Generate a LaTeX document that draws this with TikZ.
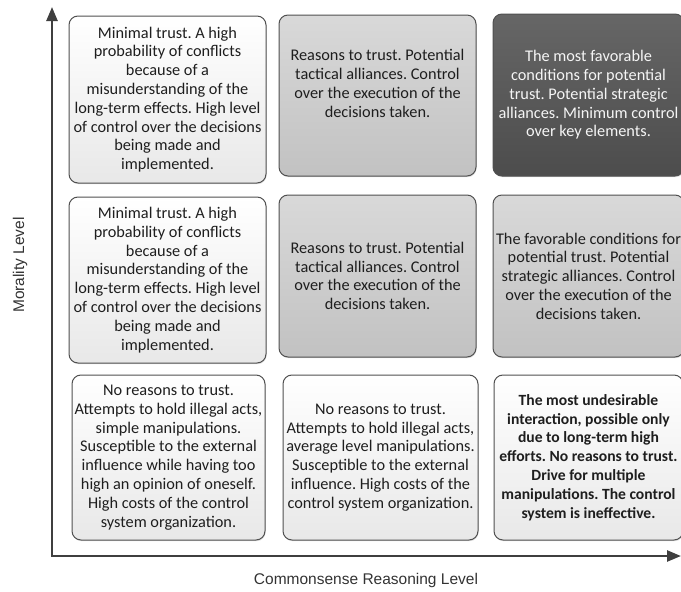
\documentclass[tikz,border=0pt]{standalone}
\usepackage{fontspec}
\setmainfont{Carlito}
\newfontfamily\axisfont{Liberation Sans}
\usepackage{tikz}
\usetikzlibrary{arrows.meta}
\usetikzlibrary{shadows}
\frenchspacing
\definecolor{edgegrey}{HTML}{505050}
\definecolor{axisgrey}{HTML}{3F3F3F}
\definecolor{textgrey}{HTML}{1E1E1E}
\tikzstyle{cell} = [rectangle, rounded corners=9pt, inner sep=0pt, align=center, draw=edgegrey, line width=1pt, text=textgrey, font=\fontsize{16.3}{18.8}\selectfont, drop shadow={shadow xshift=0.6pt, shadow yshift=-1.2pt, opacity=0.25}]
\tikzstyle{lightcell} = [cell, top color=white, bottom color=black!9]
\tikzstyle{greycell} = [cell, top color=black!15, bottom color=black!24]
\tikzstyle{darkcell} = [cell, top color=black!60, bottom color=black!70, text=black!4]
\tikzstyle{celltext} = [inner sep=0pt, align=center, text=textgrey, font=\fontsize{16.3}{18.8}\selectfont]
\tikzstyle{axis} = [line width=2.5pt, draw=axisgrey, {Triangle[length=14pt,width=11pt]}-{Triangle[length=14pt,width=11pt]}]
\tikzstyle{axislabel} = [font=\axisfont\fontsize{15.5}{17}\selectfont, text=black!80]

\begin{document}
\begin{tikzpicture}[x=1pt, y=-1pt]

        \clip (0,0) rectangle (681,592);

        \coordinate (origin) at (52,556);
        \coordinate (y_tip) at (52,7);
        \coordinate (x_tip) at (681,556);
        \draw [axis] (y_tip) -- (origin) -- (x_tip);

        \node (high_low) [lightcell, minimum width=197pt, minimum height=167pt] at (167.5,99.5) {Minimal trust. A high\\probability of conflicts\\because of a\\misunderstanding of the\\long-term effects. High level\\of control over the decisions\\being made and\\implemented.};
        \node (high_mid) [greycell, minimum width=197pt, minimum height=161pt] at (377.5,95.5) {};
        \node (high_mid_text) [celltext, yshift=12pt] at (high_mid) {Reasons to trust. Potential\\tactical alliances. Control\\over the execution of the\\decisions taken.};
        \node (high_high) [darkcell, minimum width=191pt, minimum height=162pt] at (588.5,95) {The most favorable\\conditions for potential\\trust. Potential strategic\\alliances. Minimum control\\over key elements.};

        \node (mid_low) [lightcell, minimum width=197pt, minimum height=166pt] at (167.5,280) {Minimal trust. A high\\probability of conflicts\\because of a\\misunderstanding of the\\long-term effects. High level\\of control over the decisions\\being made and\\implemented.};
        \node (mid_mid) [greycell, minimum width=197pt, minimum height=162pt] at (377.5,276) {Reasons to trust. Potential\\tactical alliances. Control\\over the execution of the\\decisions taken.};
        \node (mid_high) [greycell, minimum width=191pt, minimum height=162pt] at (588.5,276) {The favorable conditions for\\potential trust. Potential\\strategic alliances. Control\\over the execution of the\\decisions taken.};

        \node (low_low) [lightcell, minimum width=193pt, minimum height=165pt] at (168.5,457.5) {No reasons to trust.\\Attempts to hold illegal acts,\\simple manipulations.\\Susceptible to the external\\influence while having too\\high an opinion of oneself.\\High costs of the control\\system organization.};
        \node (low_mid) [lightcell, minimum width=195pt, minimum height=165pt] at (380.5,457.5) {No reasons to trust.\\Attempts to hold illegal acts,\\average level manipulations.\\Susceptible to the external\\influence. High costs of the\\control system organization.};
        \node (low_high) [lightcell, minimum width=189pt, minimum height=165pt, font=\bfseries\fontsize{15.6}{18.8}\selectfont] at (588.5,457.5) {The most undesirable\\interaction, possible only\\due to long-term high\\efforts. No reasons to trust.\\Drive for multiple\\manipulations. The control\\system is ineffective.};

        \node (morality) [axislabel, rotate=90] at (20,265) {Morality Level};
        \node (reasoning) [axislabel] at (366,580) {Commonsense Reasoning Level};

    \end{tikzpicture}
\end{document}
